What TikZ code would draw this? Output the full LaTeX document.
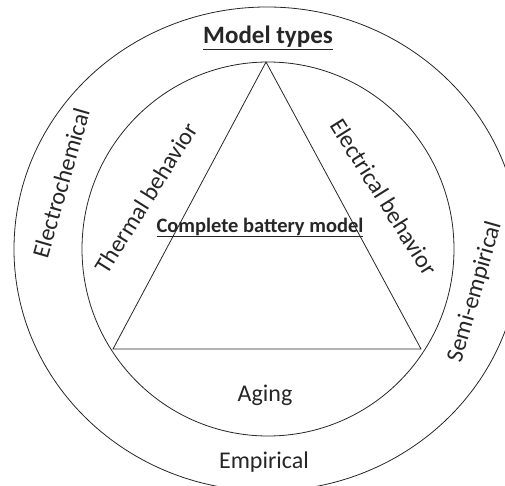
\documentclass[tikz,border=0pt]{standalone}
\usepackage{fontspec}
\setmainfont{Carlito}

\begin{document}
\begin{tikzpicture}[x=1pt,y=-1pt,
    ring/.style={draw=black!85, line width=0.8pt},
    lbl/.style={font=\fontsize{24}{28}\selectfont, text=black!85, inner sep=0pt},
    head/.style={font=\bfseries\fontsize{25}{30}\selectfont, text=black!85, inner sep=0pt},
    subhead/.style={font=\bfseries\fontsize{20.5}{24}\selectfont, text=black!85, inner sep=0pt}]
  \useasboundingbox (0,0) rectangle (505,486);

  % rings
  \draw[ring] (267,249) ellipse [x radius=253pt, y radius=242pt];
  \draw[ring] (268,249) ellipse [x radius=186pt, y radius=187pt];

  % triangle
  \coordinate (T) at (266,62);
  \coordinate (L) at (113,349);
  \coordinate (R) at (421,349);
  \draw[ring] (T) -- (L) -- (R) -- cycle;

  \node[head, anchor=base]    (types)    at (268,44)  {\underline{Model types}};
  \node[subhead, anchor=base] (complete) at (260,232) {\underline{Complete battery model}};

  \node[lbl, anchor=base] (aging)    at (265,401) {Aging};
  \node[lbl, anchor=base] (empiric)  at (264,468) {Empirical};
  \node[lbl, rotate=74]   (echem)    at (61,183)  {Electrochemical};
  \node[lbl, rotate=74]   (semi)     at (475,292) {Semi-empirical};
  \node[lbl, rotate=58]   (thermal)  at (146,198) {Thermal behavior};
  \node[lbl, rotate=-58]  (electric) at (384,197) {Electrical behavior};
\end{tikzpicture}
\end{document}
